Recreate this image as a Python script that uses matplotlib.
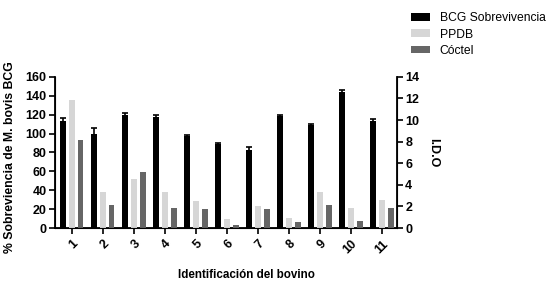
import numpy as np
import matplotlib

matplotlib.use("Agg")
import matplotlib.pyplot as plt  # noqa: E402

plt.rcParams["font.family"] = ["Liberation Sans", "DejaVu Sans"]

bovinos = ["1", "2", "3", "4", "5", "6", "7", "8", "9", "10", "11"]
bcg = [113, 100, 120, 118, 97, 89, 83, 119, 109, 144, 113]
bcg_err = [3, 6, 2, 1.5, 2, 1, 3, 1, 1.5, 2, 2.5]
ppdb = [11.9, 3.3, 4.55, 3.3, 2.55, 0.8, 2.0, 0.9, 3.3, 1.9, 2.6]
coctel = [8.2, 2.1, 5.2, 1.9, 1.8, 0.25, 1.8, 0.6, 2.1, 0.7, 1.9]

x = np.arange(1, len(bovinos) + 1)
w = 0.19
off = 0.28

fig = plt.figure(figsize=(5.59, 2.88), dpi=100)
ax = fig.add_axes([0.098, 0.208, 0.612, 0.525])
ax2 = ax.twinx()

ax.bar(x - off, bcg, w, color="black", yerr=bcg_err,
       error_kw=dict(ecolor="black", elinewidth=1.2, capsize=2, capthick=1.2),
       label="BCG Sobrevivencia", zorder=3)
ax2.bar(x, ppdb, w, color="#d6d6d6", label="PPDB")
ax2.bar(x + off, coctel, w, color="#666666", label="Cóctel")

ax.set_xlim(0.45, 11.48)
ax.set_ylim(0, 160)
ax2.set_ylim(0, 14)
ax.set_yticks(np.arange(0, 161, 20))
ax2.set_yticks(np.arange(0, 15, 2))
ax.set_xticks(x)
ax.set_xticklabels(bovinos, rotation=45, ha="right", rotation_mode="anchor")

for a in (ax, ax2):
    a.spines["top"].set_visible(False)
    a.tick_params(width=1.2, length=4, labelsize=9)
    for lab in a.get_xticklabels() + a.get_yticklabels():
        lab.set_fontweight("bold")
for s in ("left", "bottom"):
    ax.spines[s].set_linewidth(1.3)
ax2.spines["right"].set_linewidth(1.3)
ax.tick_params(axis="x", pad=3)
ax2.tick_params(axis="y", pad=2)
ax.tick_params(axis="y", pad=2)

ax.set_ylabel("% Sobreviencia de M. bovis BCG", fontsize=8.8, fontweight="bold")
ax.yaxis.set_label_coords(-0.112, 0.47)
ax2.set_ylabel("I.D.O", fontsize=9, fontweight="bold", rotation=-90, labelpad=14)
ax.set_xlabel("Identificación del bovino", fontsize=8.4, fontweight="bold")
ax.xaxis.set_label_coords(0.56, -0.27)

h1, l1 = ax.get_legend_handles_labels()
h2, l2 = ax2.get_legend_handles_labels()
fig.legend(h1 + h2, l1 + l2, loc="upper left", bbox_to_anchor=(0.715, 0.995),
           frameon=False, fontsize=8.7, handlelength=1.6, handleheight=0.6,
           labelspacing=0.35, handletextpad=0.8)

fig.savefig("out.png", dpi=100)
